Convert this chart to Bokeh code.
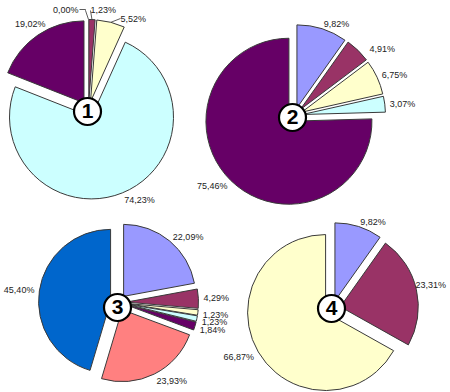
import math
from bokeh.plotting import figure
from bokeh.models import Range1d, ColumnDataSource
from bokeh.core.properties import value
from bokeh.embed import file_html
from bokeh.resources import INLINE

# ---- data ----
pie1_values = [0.00, 1.23, 5.52, 74.23, 19.02]
pie2_values = [9.82, 4.91, 6.75, 3.07, 75.46]
pie3_values = [22.09, 4.29, 1.23, 1.23, 1.84, 23.93, 45.40]
pie4_values = [9.82, 23.31, 66.87]
pie_numbers = ["1", "2", "3", "4"]

# ---- style / layout ----
palette = ["#9999FF", "#993366", "#FFFFCC", "#CCFFFF", "#660066", "#FF8080", "#0066CC"]
W, H = 450, 392
FONT = "Liberation Sans"
pies = [
    dict(vals=pie1_values, c=(88, 109), r=82, badge=(87, 111)),
    dict(vals=pie2_values, c=(294, 115), r=83, badge=(292, 117)),
    dict(vals=pie3_values, c=(118, 302), r=72, badge=(117, 307)),
    dict(vals=pie4_values, c=(332, 308), r=78, badge=(331, 308)),
]
EXPLODE = 8
GAP = 5
# label placements moved by hand in the original (window px): (pie, slice) -> (x, y, align)
label_moves = {
    (0, 0): (78, 9, "right"),
    (0, 1): (90, 9, "left"),
    (0, 2): (120, 18, "left"),
    (0, 4): (45, 23, "right"),
    (1, 1): (369, 48, "left"),
    (3, 1): (415, 284, "left"),
}
leaders = {(0, 0): [(78, 9)], (0, 1): [(90, 10)], (0, 2): [(120, 18)]}


def Y(y):
    return H - y


p = figure(width=W, height=H, output_backend="svg", toolbar_location=None,
           x_range=Range1d(0, W), y_range=Range1d(0, H),
           x_axis_type=None, y_axis_type=None, min_border=0)
p.outline_line_color = None
p.background_fill_color = "white"

lab = dict(x=[], y=[], text=[], align=[])
for pi, pie in enumerate(pies):
    vals = pie["vals"]
    tot = sum(vals)
    cx, cy = pie["c"]
    R = pie["r"]
    cum = 0.0
    wx, wy, sa, ea, cols = [], [], [], [], []
    for si, v in enumerate(vals):
        a = cum / tot
        b = (cum + v) / tot
        cum += v
        mid = math.pi * (a + b)  # clockwise from top
        ux, uy = math.sin(mid), math.cos(mid)  # data coords (y up)
        ox, oy = cx + ux * EXPLODE, Y(cy) + uy * EXPLODE
        if v > 0:
            wx.append(ox)
            wy.append(oy)
            sa.append(math.pi / 2 - 2 * math.pi * b)
            ea.append(math.pi / 2 - 2 * math.pi * a)
            cols.append(palette[si])
        txt = f"{v:.2f}".replace(".", ",") + "%"
        if (pi, si) in label_moves:
            lx, ly, al = label_moves[(pi, si)]
            ly = Y(ly)
        else:
            rr = R + EXPLODE + GAP
            lx, ly = cx + ux * rr, Y(cy) + uy * rr
            if ux > 0.25:
                al = "left"
            elif ux < -0.25:
                al = "right"
            else:
                al = "center"
                ly += uy * 5
            if uy < 0:
                ly -= 2
        lab["x"].append(lx)
        lab["y"].append(ly)
        lab["text"].append(txt)
        lab["align"].append(al)
        if (pi, si) in leaders:
            ex = cx + ux * (R + EXPLODE)
            ey = Y(cy) + uy * (R + EXPLODE)
            pts = [(ex, ey)] + [(px, Y(py)) for px, py in leaders[(pi, si)]]
            if si == 0:
                pts = [(ex, ey), (ex - 3, ey + 9), (85, Y(9)), (79, Y(9))]
            p.line([q[0] for q in pts], [q[1] for q in pts], line_color="#333333", line_width=0.8)
    p.wedge(x=wx, y=wy, radius=R, start_angle=sa, end_angle=ea, direction="anticlock",
            fill_color=cols, line_color="#3a3a3a", line_width=1)

src = ColumnDataSource(lab)
p.text(x="x", y="y", text="text", source=src, text_align="align", text_baseline="middle",
       text_font=value(FONT), text_font_size="9px", text_color="#222222")

bx = [pie["badge"][0] for pie in pies]
by = [Y(pie["badge"][1]) for pie in pies]
p.scatter(x=bx, y=by, marker="circle", size=27, fill_color="white", line_color="black", line_width=2.2)
p.text(x=bx, y=[v + 0.5 for v in by], text=pie_numbers, text_align="center", text_baseline="middle",
       text_font=value(FONT), text_font_style="bold", text_font_size="21px", text_color="black")

open("out.html", "w").write(file_html(p, INLINE))
